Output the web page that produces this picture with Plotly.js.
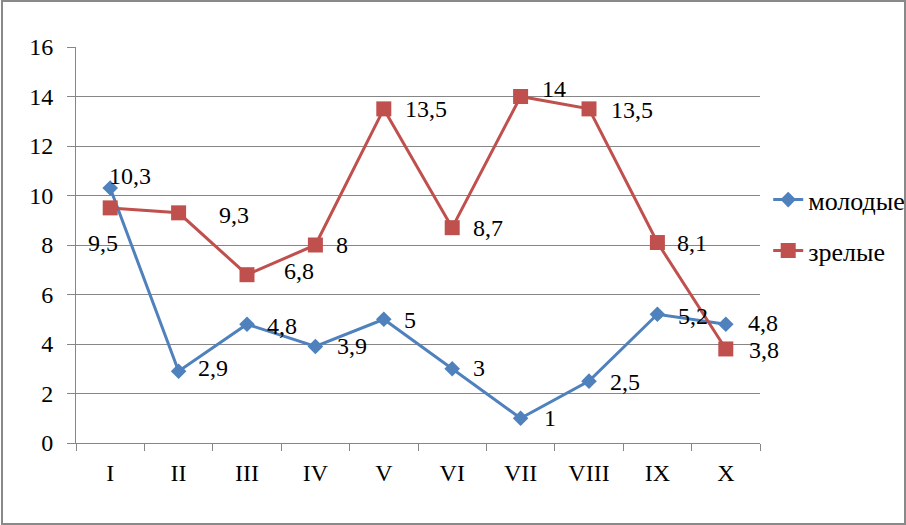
<!DOCTYPE html>
<html>
<head>
<meta charset="utf-8">
<script src="https://cdn.plot.ly/plotly-3.0.1.min.js"></script>
<style>
  html, body { margin: 0; padding: 0; background: #fff; }
  #wrap { position: relative; width: 906px; height: 525px; }
  #chart { position: absolute; left: 0; top: 0; width: 906px; height: 525px; }
  #frame { position: absolute; left: 1px; top: 0px; width: 901px; height: 521px;
           border: 2px solid #898989; pointer-events: none; }
</style>
</head>
<body>
<div id="wrap">
  <div id="chart"></div>
  <div id="frame"></div>
</div>
<script>
const categories = ['I', 'II', 'III', 'IV', 'V', 'VI', 'VII', 'VIII', 'IX', 'X'];
const young = [10.3, 2.9, 4.8, 3.9, 5, 3, 1, 2.5, 5.2, 4.8];
const mature = [9.5, 9.3, 6.8, 8, 13.5, 8.7, 14, 13.5, 8.1, 3.8];

// label placement (pixels from the marker: left edge / vertical centre)
const youngShiftX = [-2, 18, 19, 21, 19, 20, 22, 20, 20, 21];
const youngShiftY = [12, 3, -2, 0, -1, 1, 0, -1, -2, 1];
const matureShiftX = [-23, 39, 36, 20, 20, 20, 20, 21, 19, 22];
const matureShiftY = [-35, -2, 4, 0, 0, 0, 8, -1, 0, -1];

const FAMILY = 'Liberation Serif, Times New Roman, serif';
const font = { family: FAMILY, size: 24, color: '#000' };
const legendFont = { family: FAMILY, size: 26, color: '#000' };

function fmt(v) {
  return String(v).replace('.', ',');
}

function labels(values, dx, dy) {
  return values.map((v, i) => ({
    x: categories[i],
    y: v,
    xref: 'x',
    yref: 'y',
    text: fmt(v),
    showarrow: false,
    xanchor: 'left',
    yanchor: 'middle',
    xshift: dx[i],
    yshift: dy[i],
    borderpad: 0,
    font: font
  }));
}

const traces = [
  {
    x: categories,
    y: young,
    name: 'молодые',
    legendgroup: 'a',
    type: 'scatter',
    mode: 'lines+markers',
    line: { color: '#4F81BD', width: 3 },
    marker: { symbol: 'diamond', size: 12, color: '#4F81BD' },
    cliponaxis: false
  },
  {
    x: categories,
    y: mature,
    name: 'зрелые',
    legendgroup: 'b',
    type: 'scatter',
    mode: 'lines+markers',
    line: { color: '#C0504D', width: 3 },
    marker: { symbol: 'square', size: 15, color: '#C0504D' },
    cliponaxis: false
  }
];

const layout = {
  width: 906,
  height: 525,
  margin: { l: 76, r: 146, t: 47, b: 82, autoexpand: false },
  paper_bgcolor: '#fff',
  plot_bgcolor: '#fff',
  font: font,
  showlegend: true,
  legend: {
    x: 1.012, xanchor: 'left',
    y: 0.55, yanchor: 'middle',
    font: legendFont,
    tracegroupgap: 14,
    bgcolor: 'rgba(0,0,0,0)'
  },
  annotations: labels(young, youngShiftX, youngShiftY)
    .concat(labels(mature, matureShiftX, matureShiftY)),
  xaxis: {
    type: 'category',
    range: [-0.5, 9.5],
    showgrid: false,
    showline: true,
    linecolor: '#868686',
    linewidth: 1,
    ticks: 'outside',
    tickson: 'boundaries',
    ticklen: 7,
    tickcolor: '#868686',
    ticklabelstandoff: 8,
    tickfont: font,
    zeroline: false
  },
  yaxis: {
    range: [0, 16],
    dtick: 2,
    showgrid: true,
    gridcolor: '#868686',
    gridwidth: 1,
    showline: true,
    linecolor: '#868686',
    ticks: 'outside',
    ticklen: 8,
    tickcolor: '#868686',
    ticklabelstandoff: 9,
    tickfont: font,
    zeroline: false
  }
};

Plotly.newPlot('chart', traces, layout, { displayModeBar: false, staticPlot: true });
</script>
</body>
</html>
